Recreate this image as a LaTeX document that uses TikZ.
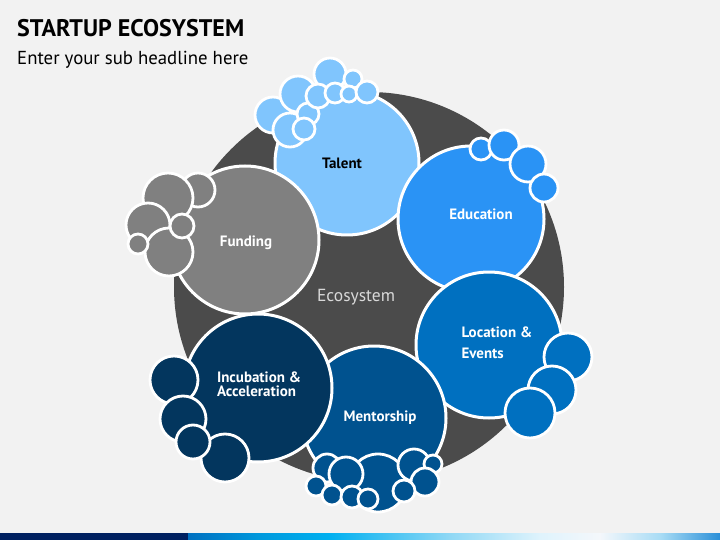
\documentclass[tikz,border=0pt]{standalone}
\usepackage{fontspec}
\setmainfont{PT Sans}
\definecolor{bgc}{HTML}{F2F2F2}
\definecolor{ringc}{HTML}{4B4B4B}
\definecolor{talentc}{HTML}{80C5FD}
\definecolor{educc}{HTML}{2A93F5}
\definecolor{locc}{HTML}{0070C0}
\definecolor{mentc}{HTML}{00528F}
\definecolor{incubc}{HTML}{03365E}
\definecolor{fundc}{HTML}{808080}
\definecolor{barc}{HTML}{002060}
\definecolor{ecoc}{HTML}{D9D9D9}
\definecolor{barb}{HTML}{0099DD}
\definecolor{barcy}{HTML}{00B0F0}
\definecolor{barl}{HTML}{8FD8F5}
\definecolor{barp}{HTML}{DFF3FC}
\definecolor{barw}{HTML}{F4F7FB}
\definecolor{barm}{HTML}{A8DCF5}
\definecolor{bare}{HTML}{2A8FD8}
\pgfdeclarehorizontalshading{barshade}{100bp}{color(0bp)=(locc); color(25bp)=(locc); color(31.8bp)=(barb); color(38.3bp)=(barcy); color(49.6bp)=(barl); color(58.1bp)=(barp); color(63.7bp)=(barw); color(69.4bp)=(barm); color(75bp)=(bare); color(100bp)=(bare)}
\begin{document}
\begin{tikzpicture}[x=1pt, y=-1pt, line join=round,
  hub/.style={circle, draw=white, line width=3pt, inner sep=0pt},
  bubble/.style={draw=white, line width=2.8pt},
  lbl/.style={font=\bfseries\fontsize{15}{17}\selectfont, text=white, align=left}]
  % background and bottom bar
  \fill[bgc] (0,0) rectangle (720,540);
  \fill[barc] (0,533) rectangle (188,540);
  \shade[shading=barshade] (188,533) rectangle (720,540);
  % headings
  \node[anchor=base west, inner sep=0pt, font=\bfseries\fontsize{24}{27}\selectfont] (title) at (17,37) {STARTUP ECOSYSTEM};
  \node[anchor=base west, inner sep=0pt, font=\fontsize{18.8}{21}\selectfont] (subtitle) at (17,65) {Enter your sub headline here};
  % dark ring
  \fill[ringc] (369,287) circle (195);
  \node[text=ecoc, font=\fontsize{17.5}{20}\selectfont] (eco) at (356,297) {Ecosystem};
  % talent
  \node[hub, fill=talentc, minimum size=144pt] (talent) at (347,163) {};
  \foreach \x/\y/\r in {273/115/18, 290/130/17, 298/94/18, 330/74/16, 353/79/9, 308/114/11, 304/129/11, 318/96/12, 335/93/10, 349/94/8, 367/92/11}
    \draw[bubble, fill=talentc] (\x,\y) circle (\r);
  \node[lbl, text=black] (talentlbl) at (342,163) {Talent};
  % education
  \node[hub, fill=educc, minimum size=146pt] (educ) at (471,219) {};
  \foreach \x/\y/\r in {481/149/11, 504/145/15, 528/164/18, 544/188/14}
    \draw[bubble, fill=educc] (\x,\y) circle (\r);
  \node[lbl] (educlbl) at (481,214) {Education};
  % location and events
  \node[hub, fill=locc, minimum size=146pt] (loc) at (489,345) {};
  \foreach \x/\y/\r in {568/357/24, 552/390/24, 530/413/25}
    \draw[bubble, fill=locc] (\x,\y) circle (\r);
  \node[lbl, anchor=west, font=\bfseries\fontsize{15}{21}\selectfont] (loclbl) at (458,343) {Location \&\\Events};
  % mentorship
  \node[hub, fill=mentc, minimum size=144pt] (ment) at (374,418) {};
  \foreach \x/\y/\r in {378/483/29, 327/468/14, 346/474/17, 316/486/10, 332/495/10, 352/497/11, 368/499/10, 414/465/16, 433/464/9, 425/482/14, 404/491/11}
    \draw[bubble, fill=mentc] (\x,\y) circle (\r);
  \node[lbl] (mentlbl) at (380,418) {Mentorship};
  % incubation and acceleration
  \node[hub, fill=incubc, minimum size=148pt] (incub) at (258,388) {};
  \foreach \x/\y/\r in {174/380/24, 183/419/23, 225/458/24, 193/442/17}
    \draw[bubble, fill=incubc] (\x,\y) circle (\r);
  \node[lbl, font=\bfseries\fontsize{15}{14.5}\selectfont] (incublbl) at (259,384) {Incubation \&\\Acceleration};
  % funding
  \node[hub, fill=fundc, minimum size=148pt] (fund) at (245,240) {};
  \foreach \x/\y/\r in {198/190/17, 168/198/25, 148/225/22, 169/252/24, 182/226/12, 138/244/10}
    \draw[bubble, fill=fundc] (\x,\y) circle (\r);
  \node[lbl] (fundlbl) at (246,243) {Funding};
\end{tikzpicture}
\end{document}
